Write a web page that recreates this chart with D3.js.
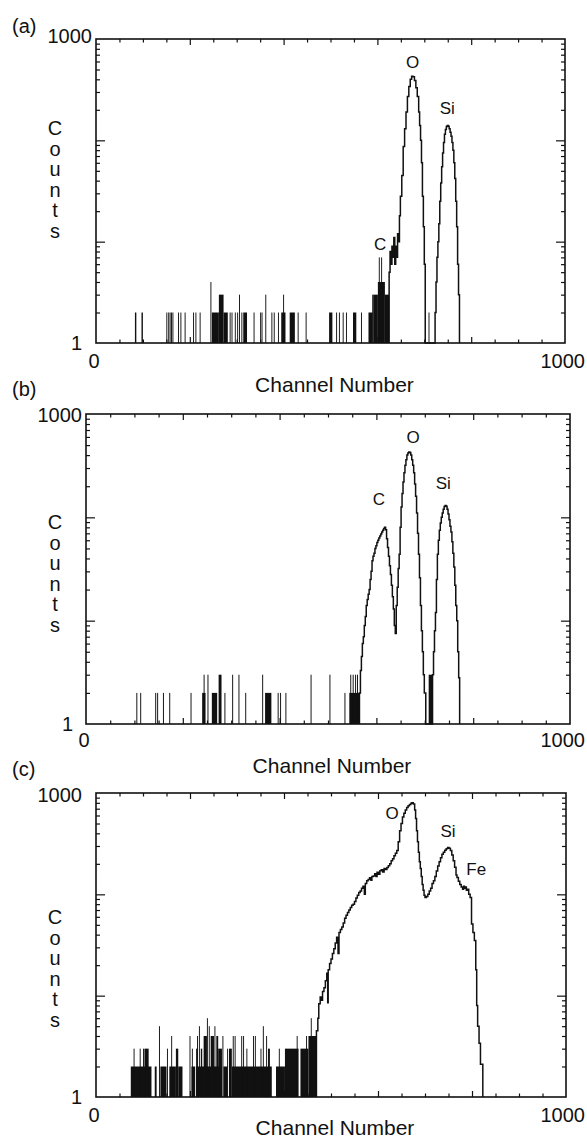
<!DOCTYPE html>
<html>
<head>
<meta charset="utf-8">
<script src="https://cdnjs.cloudflare.com/ajax/libs/d3/7.8.5/d3.min.js"></script>
<style>
  body { margin: 0; background: #fff; }
  svg text { font-family: "Liberation Sans", Arial, sans-serif; fill: #111; }
</style>
</head>
<body>
<svg width="587" height="1140"></svg>
<script>
// tick labels
var xTickLabels = [0, 1000];
var yTickLabels = [1, 1000];
var xAxisTitle = "Channel Number";
var yAxisTitle = "Counts";

// noise spikes / dense blocks: [from channel, to channel, counts]
var aBars = [
  [83,86,2],[97,100,2],
  [150,152,2],[154,156,2],[157,159,2],[160,162,2],[163,165,2],
  [175,177,2],[180,182,2],[189,191,2],
  [207,209,2],[212,214,2],[221,223,2],
  [244,246,4],[247,262,2],[262,272,3],[272,281,2],
  [285,287,2],[289,291,2],[296,298,2],[301,303,2],[305,307,3],[310,312,2],[314,322,2],
  [336,338,2],[350,352,2],[353,355,2],[361,363,3],[374,376,2],[379,381,2],[388,390,2],
  [395,404,2],[399,401,3],[413,424,2],[430,432,2],[447,449,2],
  [497,504,2],[512,514,2],[518,520,2],[526,528,2],[533,535,2],[548,555,2],[565,567,2],
  [581,590,2],[589,591,3],[591,601,3],[601,616,4],[603,605,7],[608,610,7],[616,625,3],
  [709,711,2]
];
// continuous part of the spectrum: [channel, counts] (step after)
var aLine = [
  [625,5],[627,8],[629,6],[631,9],[633,7],[635,11],[637,6],[639,9],[641,7],[643,12],[645,10],[647,18],
  [649,28],[652,45],[655,87],[658,130],[661,190],[664,270],[667,340],[670,400],[673,430],[676,425],
  [679,390],[682,330],[685,270],[688,190],[690,140],[692,100],[694,60],[696,28],[698,14],[700,6],[702,1],
  [723,2],[725,4],[727,7],[729,10],[731,15],[733,25],[735,38],[737,55],[739,75],[741,95],[743,115],
  [745,128],[747,137],[749,140],[751,138],[753,130],[755,120],[757,110],[759,95],[761,80],[763,60],
  [765,42],[767,25],[769,14],[771,6],[773,3],[775,1]
];

var bBars = [
  [104,106,2],[112,114,2],[143,145,2],[147,149,2],[159,161,2],[172,174,2],[216,218,2],
  [240,247,2],[243,245,3],[251,253,3],[260,271,2],[274,280,3],[286,288,2],[302,304,3],[315,317,3],[329,331,2],
  [364,366,3],[370,383,2],[396,398,2],[401,403,2],[412,414,2],[464,466,3],[503,505,3],[534,536,2],
  [544,565,2],[546,548,3],[551,553,3],[556,558,3],[560,562,3],
  [708,716,3]
];
var bLine = [
  [565,2],[567,3.3],[569,4.5],[571,6],[573,7],[575,9],[577,11],[579,14],[581,16],[583,18],[585,20],
  [587,25],[589,30],[591,38],[593,42],[595,45],[597,50],[599,53],[601,57],[603,60],[605,63],[607,66],
  [609,69],[611,72],[613,75],[615,78],[617,80],[619,76],[621,62],[623,51],[625,42],[627,34],[629,28],
  [631,22],[633,17],[635,13],[637,9],[639,7.5],[641,14],[643,21],[645,32],[647,44],[649,80],[651,126],
  [653,170],[655,220],[657,270],[659,320],[661,360],[663,400],[665,420],[667,430],[669,425],[671,400],
  [673,360],[675,320],[677,270],[679,210],[681,160],[683,110],[685,70],[687,44],[689,26],[691,14],
  [693,8],[695,5],[697,3],[699,2],[702,1],
  [716,3],[718,5],[720,8],[722,12],[724,25],[726,44],[728,60],[730,75],[732,88],[734,100],[736,110],
  [738,120],[740,127],[742,130],[744,128],[746,120],[748,108],[750,95],[752,82],[754,72],[756,58],
  [758,45],[760,33],[762,22],[764,14],[766,10],[768,5],[770,2.8],[772,1]
];

var cBars = [
  [74,118,2],[80,82,3],[93,95,3],[100,102,3],[103,112,3],
  [125,129,2],[134,136,5],[137,150,2],[151,153,3],[156,170,2],[160,162,4],[170,175,3],[175,184,2],
  [199,201,4],[203,211,2],[204,206,3],
  [213,268,2],[213,216,3],[215,217,4],[219,221,5],[223,226,3],[229,236,4],[236,238,6],[240,242,5],
  [244,251,4],[252,254,5],[256,260,4],[260,268,3],
  [269,271,4],[271,280,2],[279,281,3],[283,289,3],[291,293,4],[295,297,4],[289,374,2],[309,311,4],
  [313,315,4],[320,322,3],[334,336,4],[338,340,4],[350,352,3],[355,357,5],[362,364,4],[366,370,3],
  [383,402,2],[389,391,3],[402,431,3],[427,429,4],
  [435,452,3],[447,449,4],[452,469,4],[457,459,6]
];
var cLine = [
  [469,4.5],[472,6],[474,8.3],[477,9.7],[480,9],[482,11],[485,12],[488,14],[491,16.6],[493,8.5],
  [494,18],[497,20.8],[500,23],[503,26],[506,29],[509,33],[512,37.8],[515,26],[517,42],[520,45],
  [523,47.6],[526,52],[529,58],[532,62],[535,66],[538,70],[541,74],[544,78],[547,80],[550,85],
  [553,92],[556,98],[559,104],[562,108],[565,115],[568,120],[571,100],[573,128],[576,136],[579,140],
  [582,146],[585,138],[587,150],[590,152],[593,160],[596,150],[598,165],[601,158],[604,171],[607,175],
  [610,166],[613,180],[616,176],[619,184],[622,192],[625,200],[628,214],[631,225],[634,240],[637,255],
  [640,270],[643,330],[646,424],[649,500],[652,580],[655,630],[658,680],[661,720],[664,750],[667,770],
  [670,790],[672,800],[675,780],[678,680],[680,560],[682,424],[684,330],[686,260],[688,210],[690,180],
  [692,150],[694,125],[696,110],[698,98],[700,93],[703,95],[706,100],[709,108],[712,115],[715,128],
  [718,136],[721,150],[724,170],[727,190],[730,210],[733,230],[736,248],[739,260],[742,272],[745,282],
  [748,290],[751,285],[754,270],[757,245],[760,215],[763,185],[766,155],[768,147],[771,135],[774,125],
  [777,118],[780,112],[782,120],[784,115],[786,118],[788,110],[790,112],[793,100],[796,93],[799,51],
  [802,42],[805,35],[808,18],[810,8],[812,5],[815,3.4],[818,2.1],[823,1]
];

// peak labels: [channel, counts at label baseline, text]
var aPeaks = [[606,8.3,"C"],[675,520,"O"],[749,182,"Si"]];
var bPeaks = [[605,133,"C"],[676,519,"O"],[738,186,"Si"]];
var cPeaks = [[630,557,"O"],[749,370,"Si"],[809,156,"Fe"]];

var panels = [
  {tag:"(a)", bars:aBars, line:aLine, peaks:aPeaks, left:96, right:565, top:39, bottom:343,
   tagY:33, topLblX:92, topLblDy:4, oneX:82, zeroY:368, titleY:392, countsY:135},
  {tag:"(b)", bars:bBars, line:bLine, peaks:bPeaks, left:86, right:570, top:414, bottom:724,
   tagY:396, topLblX:82, topLblDy:8, oneX:73, zeroY:747, titleY:773, countsY:529},
  {tag:"(c)", bars:cBars, line:cLine, peaks:cPeaks, left:96, right:566, top:793, bottom:1097,
   tagY:776, topLblX:82, topLblDy:9, oneX:82, zeroY:1122, titleY:1135, countsY:924}
];

var svg = d3.select("svg");
var ink = "#111";

panels.forEach(function(p) {
  var x = d3.scaleLinear().domain([0, 1000]).range([p.left, p.right]);
  var y = d3.scaleLog().domain([1, 1000]).range([p.bottom, p.top]);
  var g = svg.append("g");

  // noise bars
  g.selectAll("rect.bar")
    .data(p.bars)
    .enter()
    .append("rect")
      .attr("class", "bar")
      .attr("x", function(d) { return x(d[0]); })
      .attr("width", function(d) { return x(d[1]) - x(d[0]); })
      .attr("y", function(d) { return y(d[2]); })
      .attr("height", function(d) { return y(1) - y(d[2]); })
      .attr("fill", ink);

  // spectrum line
  var pts = [[p.line[0][0], 1]].concat(p.line);
  var line = d3.line()
    .x(function(d) { return x(d[0]); })
    .y(function(d) { return y(Math.max(1, d[1])); })
    .curve(d3.curveStepAfter);
  g.append("path")
    .datum(pts)
    .attr("d", line)
    .attr("fill", "none")
    .attr("stroke", ink)
    .attr("stroke-width", 1.5)
    .attr("stroke-linejoin", "miter");

  // ticks (all pointing inward)
  var xMajor = [200, 400, 600, 800];
  var xMinor = d3.range(50, 1000, 50).filter(function(v) { return v % 200 != 0; });
  var yMajor = [10, 100];
  var yMinor = y.ticks().filter(function(v) { return [1, 10, 100, 1000].indexOf(v) < 0; });

  function tickGroup(axis, tr) {
    var a = g.append("g").attr("transform", tr).call(axis);
    a.select(".domain").remove();
    a.selectAll("line").attr("stroke", ink).attr("stroke-width", 1.2);
    a.selectAll("text").remove();
  }
  var bt = "translate(0," + p.bottom + ")", tt = "translate(0," + p.top + ")";
  var lt = "translate(" + p.left + ",0)", rt = "translate(" + p.right + ",0)";
  tickGroup(d3.axisTop(x).tickValues(xMinor).tickSize(3.5).tickFormat(""), bt);
  tickGroup(d3.axisTop(x).tickValues(xMajor).tickSize(6).tickFormat(""), bt);
  tickGroup(d3.axisBottom(x).tickValues(xMinor).tickSize(3.5).tickFormat(""), tt);
  tickGroup(d3.axisBottom(x).tickValues(xMajor).tickSize(6).tickFormat(""), tt);
  tickGroup(d3.axisRight(y).tickValues(yMinor).tickSize(4).tickFormat(""), lt);
  tickGroup(d3.axisRight(y).tickValues(yMajor).tickSize(9).tickFormat(""), lt);
  tickGroup(d3.axisLeft(y).tickValues(yMinor).tickSize(4).tickFormat(""), rt);
  tickGroup(d3.axisLeft(y).tickValues(yMajor).tickSize(9).tickFormat(""), rt);

  // frame
  g.append("rect")
    .attr("x", p.left).attr("y", p.top)
    .attr("width", p.right - p.left).attr("height", p.bottom - p.top)
    .attr("fill", "none").attr("stroke", ink).attr("stroke-width", 1.6);

  // tick labels
  g.append("text").attr("x", x(xTickLabels[0]) - 2).attr("y", p.zeroY)
    .attr("text-anchor", "middle").attr("font-size", 20).text(xTickLabels[0]);
  g.append("text").attr("x", Math.min(x(xTickLabels[1]) + 22, 585)).attr("y", p.zeroY)
    .attr("text-anchor", "end").attr("font-size", 20).text(xTickLabels[1]);
  g.append("text").attr("x", p.oneX).attr("y", y(yTickLabels[0]) + 7)
    .attr("text-anchor", "end").attr("font-size", 20).text(yTickLabels[0]);
  g.append("text").attr("x", p.topLblX).attr("y", y(yTickLabels[1]) + p.topLblDy)
    .attr("text-anchor", "end").attr("font-size", 20).text(yTickLabels[1]);

  // panel tag
  g.append("text").attr("x", 12).attr("y", p.tagY).attr("font-size", 20).text(p.tag);

  // axis titles
  g.append("text").attr("x", (p.left + p.right) / 2 + 4).attr("y", p.titleY)
    .attr("text-anchor", "middle").attr("font-size", 21).text(xAxisTitle);
  g.selectAll("text.ylab")
    .data(yAxisTitle.split(""))
    .enter()
    .append("text")
      .attr("class", "ylab")
      .attr("x", 55)
      .attr("y", function(d, i) { return p.countsY + i * 20.6; })
      .attr("text-anchor", "middle")
      .attr("font-size", 20)
      .text(function(d) { return d; });

  // peak labels
  g.selectAll("text.peak")
    .data(p.peaks)
    .enter()
    .append("text")
      .attr("class", "peak")
      .attr("x", function(d) { return x(d[0]); })
      .attr("y", function(d) { return y(d[1]); })
      .attr("text-anchor", "middle")
      .attr("font-size", 17)
      .text(function(d) { return d[2]; });
});
</script>
</body>
</html>
